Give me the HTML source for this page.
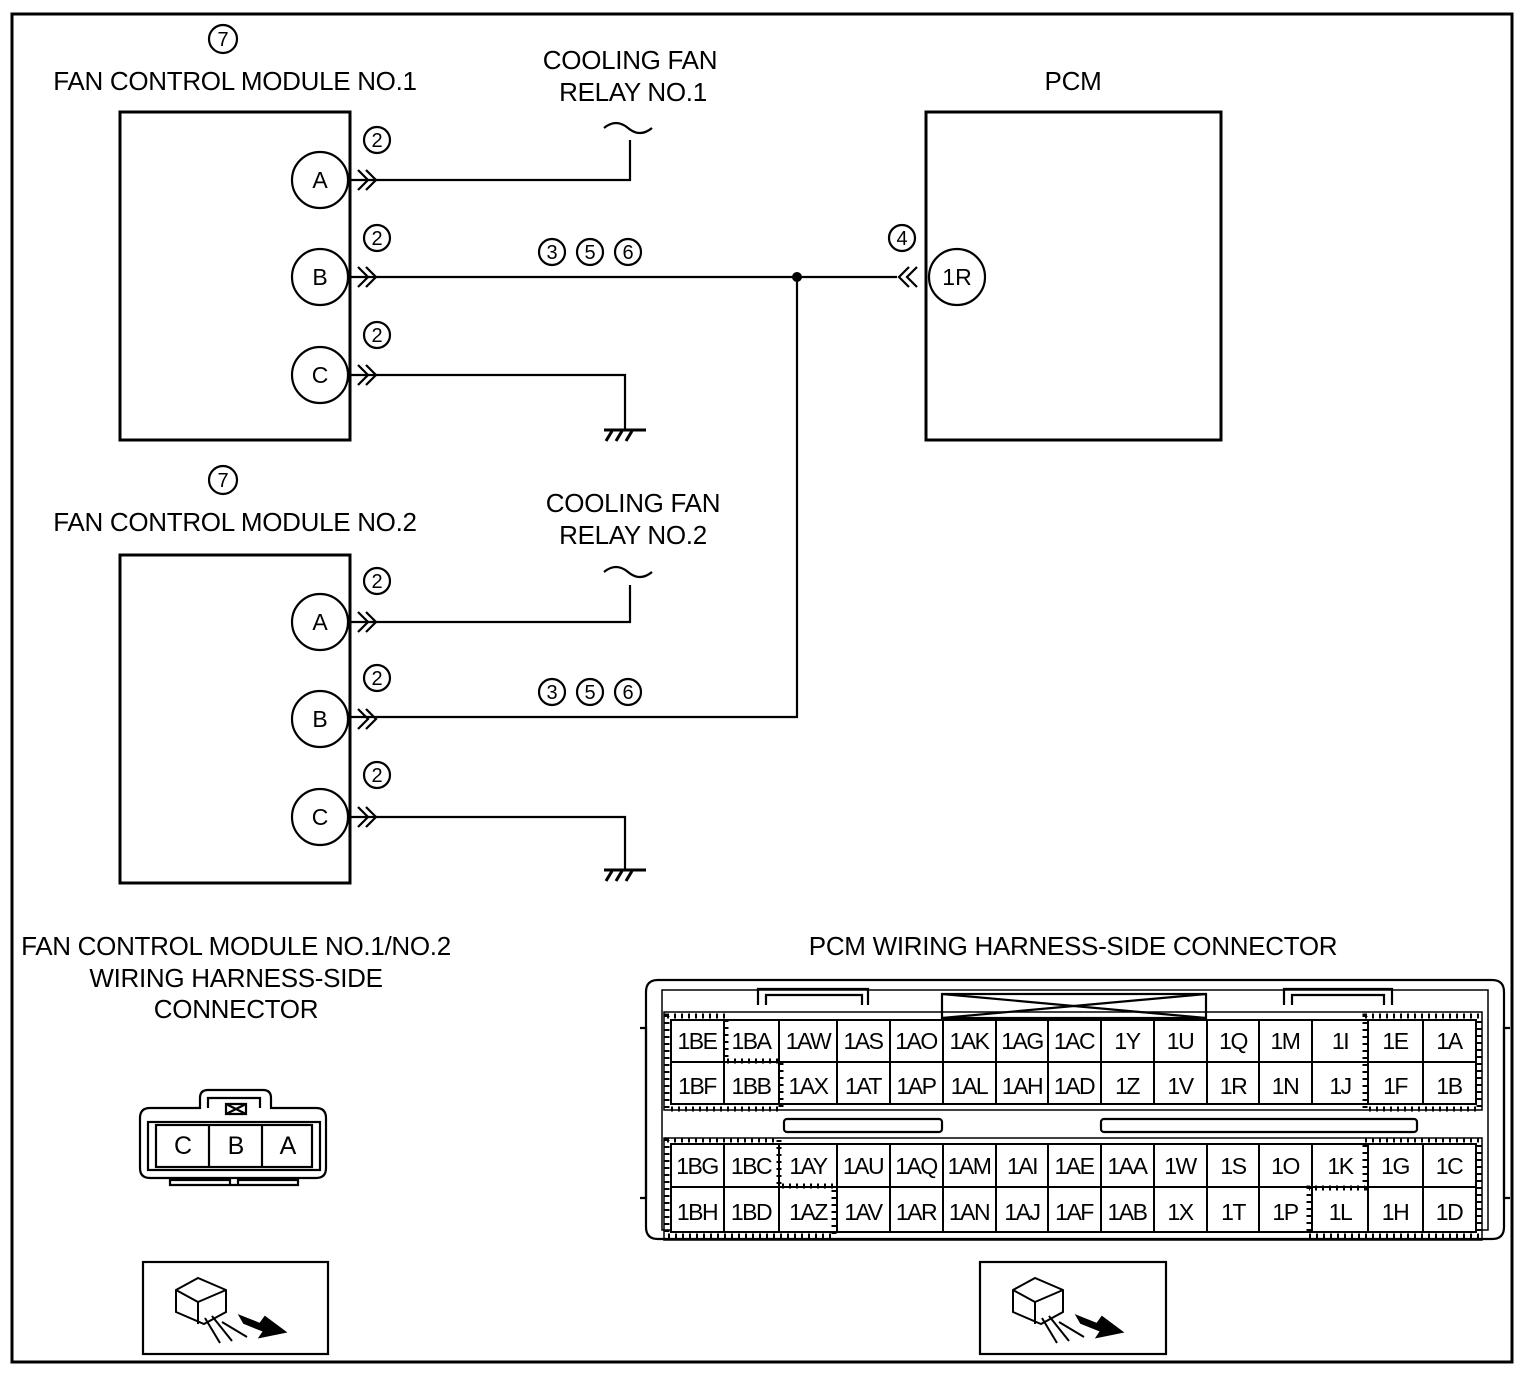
<!DOCTYPE html>
<html><head><meta charset="utf-8"><style>
html,body{margin:0;padding:0;background:#fff}
svg{display:block}
text{font-family:"Liberation Sans",sans-serif;fill:#000}
</style></head><body>
<svg width="1526" height="1374" viewBox="0 0 1526 1374" xmlns="http://www.w3.org/2000/svg">
<rect x="12" y="14" width="1500" height="1348" fill="none" stroke="#000" stroke-width="3"/>
<g font-size="26" text-anchor="middle" letter-spacing="-0.3">
<text x="235" y="90">FAN CONTROL MODULE NO.1</text>
<text x="630" y="69">COOLING FAN</text>
<text x="633" y="101">RELAY NO.1</text>
<text x="1073" y="90">PCM</text>
<text x="235" y="531">FAN CONTROL MODULE NO.2</text>
<text x="633" y="512">COOLING FAN</text>
<text x="633" y="544">RELAY NO.2</text>
<text x="236" y="955">FAN CONTROL MODULE NO.1/NO.2</text>
<text x="236" y="987">WIRING HARNESS-SIDE</text>
<text x="236" y="1018">CONNECTOR</text>
<text x="1073" y="955">PCM WIRING HARNESS-SIDE CONNECTOR</text>
</g>
<g fill="none" stroke="#000" stroke-width="3">
<rect x="120" y="112" width="230" height="328"/>
<rect x="120" y="555" width="230" height="328"/>
<rect x="926" y="112" width="295" height="328"/>
</g>
<g fill="none" stroke="#000" stroke-width="2.2">
<circle cx="223" cy="39" r="14"/><circle cx="223" cy="480" r="14"/>
<circle cx="320" cy="180" r="28"/><circle cx="320" cy="277" r="28"/><circle cx="320" cy="375" r="28"/>
<circle cx="320" cy="622" r="28"/><circle cx="320" cy="719" r="28"/><circle cx="320" cy="817" r="28"/>
<circle cx="957" cy="277" r="28"/>
<circle cx="377" cy="140" r="13"/><circle cx="377" cy="238" r="13"/><circle cx="377" cy="335" r="13"/>
<circle cx="377" cy="581" r="13"/><circle cx="377" cy="678" r="13"/><circle cx="377" cy="775" r="13"/>
<circle cx="902" cy="238" r="13"/>
<circle cx="552" cy="252" r="13"/><circle cx="590" cy="252" r="13"/><circle cx="628" cy="252" r="13"/>
<circle cx="552" cy="692" r="13"/><circle cx="590" cy="692" r="13"/><circle cx="628" cy="692" r="13"/>
<path d="M350 180H630V140M350 277H897M797 277V717H350M350 375H625V430M350 622H630V585M350 817H625V870"/>
<path d="M604 128q12-10 24 0t24 0M604 572q12-10 24 0t24 0"/>
<path d="M604 430H646M606 441l6-10M616 441l6-10M626 441l6-10M604 870H646M606 881l6-10M616 881l6-10M626 881l6-10" stroke-width="3"/>
<path d="M358 170l10 10-10 10M366 170l10 10-10 10M358 267l10 10-10 10M366 267l10 10-10 10M358 365l10 10-10 10M366 365l10 10-10 10M358 612l10 10-10 10M366 612l10 10-10 10M358 709l10 10-10 10M366 709l10 10-10 10M358 807l10 10-10 10M366 807l10 10-10 10"/>
<path d="M917 267l-10 10 10 10M909 267l-10 10 10 10"/>
</g>
<circle cx="797" cy="277" r="5" fill="#000"/>
<g font-size="23" text-anchor="middle">
<text x="320" y="188">A</text><text x="320" y="285">B</text><text x="320" y="383">C</text>
<text x="320" y="630">A</text><text x="320" y="727">B</text><text x="320" y="825">C</text>
<text x="957" y="285">1R</text>
</g>
<g font-size="20" text-anchor="middle">
<text x="223" y="46">7</text><text x="223" y="487">7</text>
<text x="377" y="147">2</text><text x="377" y="245">2</text><text x="377" y="342">2</text>
<text x="377" y="588">2</text><text x="377" y="685">2</text><text x="377" y="782">2</text>
<text x="902" y="245">4</text>
<text x="552" y="259">3</text><text x="590" y="259">5</text><text x="628" y="259">6</text>
<text x="552" y="699">3</text><text x="590" y="699">5</text><text x="628" y="699">6</text>
</g>
<g fill="none" stroke="#000" stroke-width="2.2">
<path d="M150 1108h50v-10q0-8 8-8h55q8 0 8 8v10h45q10 0 10 10v50q0 10-10 10H150q-10 0-10-10v-50q0-10 10-10z"/>
<rect x="148" y="1122" width="172" height="48"/>
<rect x="156" y="1125" width="156" height="42"/>
<path d="M209 1125v42M262 1125v42M208 1108v-10h52v10M226 1104h20v10h-20zM226 1104l20 10M246 1104l-20 10M170 1180h60v5h8v-5h60v5H170z"/>
<rect x="143" y="1262" width="185" height="92"/>
<rect x="980" y="1262" width="186" height="92"/>
</g>
<g font-size="25" text-anchor="middle"><text x="183" y="1154">C</text><text x="236" y="1154">B</text><text x="288" y="1154">A</text></g>
<g stroke="#000" stroke-width="2" fill="#fff">
<path d="M176 1290l22-12 28 12v22l-22 12-28-12z"/><path d="M198 1302l28-12M198 1302v22M176 1290l22 12"/>
<path d="M205 1318l15 25M212 1316l20 25M222 1322l25 15" fill="none"/>
<path d="M240 1316l20 8 5-7 20 15-25 5 4-6-20-8z" fill="#000"/>
<path d="M1013 1290l22-12 28 12v22l-22 12-28-12z"/><path d="M1035 1302l28-12M1035 1302v22M1013 1290l22 12"/>
<path d="M1042 1318l15 25M1049 1316l20 25M1059 1322l25 15" fill="none"/>
<path d="M1077 1316l20 8 5-7 20 15-25 5 4-6-20-8z" fill="#000"/>
</g>
<g fill="none" stroke="#000" stroke-width="2.2">
<path d="M658 980H1492q12 0 12 12v235q0 12-12 12H658q-12 0-12-12V992q0-12 12-12z"/>
<path d="M662 990H1488v240H662z" stroke-width="1.5"/>
<path d="M640 1028h6v170h-6M1510 1028h-6v170h6"/>
<path d="M758 1005v-16h110v16M766 1005v-10h96v10M1284 1005v-16h108v16M1292 1005v-10h92v10"/>
<rect x="942" y="994" width="264" height="24"/>
<path d="M942 994l264 24M1206 994l-264 24"/>
<rect x="784" y="1119" width="158" height="13" rx="3"/>
<rect x="1101" y="1119" width="316" height="13" rx="3"/>
<path d="M664 1012H1482V1110H664zM664 1138H1482V1240H664z" stroke-width="1.5"/>
</g>
<g fill="#fff" stroke="#000" stroke-width="2">
<rect x="671" y="1020" width="805" height="84"/>
<rect x="671" y="1144" width="805" height="88"/>
</g>
<g stroke="#000" stroke-width="2">
<path d="M671 1062H1476M671 1187H1476"/>
<path d="M724 1020v84M779 1020v84M837 1020v84M890 1020v84M943 1020v84M996 1020v84M1048 1020v84M1101 1020v84M1154 1020v84M1207 1020v84M1259 1020v84M1312 1020v84M1368 1020v84M1423 1020v84"/>
<path d="M724 1144v88M779 1144v88M837 1144v88M890 1144v88M943 1144v88M996 1144v88M1048 1144v88M1101 1144v88M1154 1144v88M1207 1144v88M1259 1144v88M1312 1144v88M1368 1144v88M1423 1144v88"/>
</g>
<g fill="none" stroke="#000" stroke-width="5" stroke-dasharray="2 5">
<path d="M667 1016h59v45h55v48H667z"/>
<path d="M1365 1016h114v93h-114z"/>
<path d="M667 1140h112v46h55v50H667z"/>
<path d="M1365 1140h114v96h-170v-48h56z"/>
</g>
<g font-size="23" text-anchor="middle" letter-spacing="-1.5">
<text x="697" y="1049">1BE</text><text x="751" y="1049">1BA</text><text x="808" y="1049">1AW</text><text x="863" y="1049">1AS</text><text x="916" y="1049">1AO</text><text x="969" y="1049">1AK</text><text x="1022" y="1049">1AG</text><text x="1074" y="1049">1AC</text><text x="1127" y="1049">1Y</text><text x="1180" y="1049">1U</text><text x="1233" y="1049">1Q</text><text x="1285" y="1049">1M</text><text x="1340" y="1049">1I</text><text x="1395" y="1049">1E</text><text x="1449" y="1049">1A</text>
<text x="697" y="1094">1BF</text><text x="751" y="1094">1BB</text><text x="808" y="1094">1AX</text><text x="863" y="1094">1AT</text><text x="916" y="1094">1AP</text><text x="969" y="1094">1AL</text><text x="1022" y="1094">1AH</text><text x="1074" y="1094">1AD</text><text x="1127" y="1094">1Z</text><text x="1180" y="1094">1V</text><text x="1233" y="1094">1R</text><text x="1285" y="1094">1N</text><text x="1340" y="1094">1J</text><text x="1395" y="1094">1F</text><text x="1449" y="1094">1B</text>
<text x="697" y="1174">1BG</text><text x="751" y="1174">1BC</text><text x="808" y="1174">1AY</text><text x="863" y="1174">1AU</text><text x="916" y="1174">1AQ</text><text x="969" y="1174">1AM</text><text x="1022" y="1174">1AI</text><text x="1074" y="1174">1AE</text><text x="1127" y="1174">1AA</text><text x="1180" y="1174">1W</text><text x="1233" y="1174">1S</text><text x="1285" y="1174">1O</text><text x="1340" y="1174">1K</text><text x="1395" y="1174">1G</text><text x="1449" y="1174">1C</text>
<text x="697" y="1220">1BH</text><text x="751" y="1220">1BD</text><text x="808" y="1220">1AZ</text><text x="863" y="1220">1AV</text><text x="916" y="1220">1AR</text><text x="969" y="1220">1AN</text><text x="1022" y="1220">1AJ</text><text x="1074" y="1220">1AF</text><text x="1127" y="1220">1AB</text><text x="1180" y="1220">1X</text><text x="1233" y="1220">1T</text><text x="1285" y="1220">1P</text><text x="1340" y="1220">1L</text><text x="1395" y="1220">1H</text><text x="1449" y="1220">1D</text>
</g>
</svg>
</body></html>
